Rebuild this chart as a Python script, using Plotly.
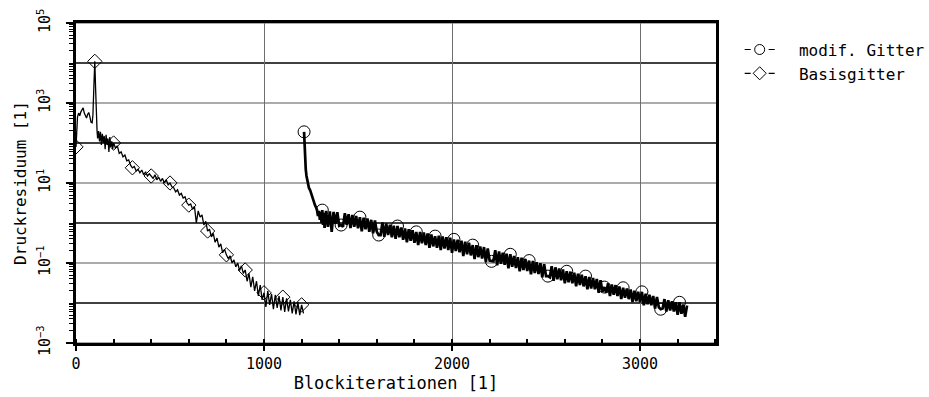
import plotly.graph_objects as go

# ---------------- Basisgitter ----------------
basis_iter = [0, 3, 8, 14, 20, 26, 32, 38, 44, 50, 56, 62, 68, 74, 80, 86, 90, 95,
              100, 104, 108, 112, 115, 120, 125, 130, 135, 140, 145, 150, 155, 160,
              165, 170, 175, 180, 185, 190, 195] + list(range(200, 1220, 10))
basis_res = [
    80, 190, 450, 560, 480, 600, 700, 760, 560, 470, 420, 520, 580, 450, 330, 320, 500, 2500,
    11000, 2500, 450, 200, 130, 200, 110, 190, 90, 170, 100, 150, 70, 160,
    90, 130, 60, 140, 80, 110, 70,
    # 200 - 290
    100, 75, 85, 55, 60, 45, 50, 36, 38, 28,
    # 300 - 390
    24, 26, 20, 22, 18, 21, 16, 19, 15, 17,
    # 400 - 490
    15, 13, 16, 12, 14, 11, 13, 10, 12, 9,
    # 500 - 590
    10, 8, 7.5, 6, 6.8, 5, 5.5, 4.2, 4.5, 3.2,
    # 600 - 690
    2.8, 3.0, 2.2, 2.6, 1.0, 2.0, 1.4, 1.6, 0.9, 1.1,
    # 700 - 790
    0.63, 0.7, 0.45, 0.55, 0.33, 0.42, 0.25, 0.3, 0.18, 0.22,
    # 800 - 890
    0.16, 0.13, 0.15, 0.1, 0.12, 0.08, 0.1, 0.065, 0.085, 0.055,
    # 900 - 990
    0.067, 0.035, 0.055, 0.025, 0.045, 0.02, 0.035, 0.015, 0.028, 0.012,
    # 1000 - 1090
    0.018, 0.008, 0.02, 0.009, 0.017, 0.007, 0.016, 0.0075, 0.015, 0.0065,
    # 1100 - 1190
    0.014, 0.006, 0.013, 0.0062, 0.012, 0.0055, 0.011, 0.0052, 0.0105, 0.005,
    # 1200 - 1210
    0.009, 0.0055,
]
basis_marker_iter = [0, 100, 200, 300, 400, 500, 600, 700, 800, 900, 1000, 1100, 1200]

# ---------------- modifiziertes Gitter ----------------
modif_iter = [1213, 1216, 1218, 1222, 1226, 1229, 1234, 1239, 1245, 1250, 1255, 1261,
              1266, 1271, 1276, 1282, 1287, 1292, 1297, 1302, 1306, 1310, 1314, 1318,
              1322, 1326] + list(range(1330, 3260, 10))
modif_res = [
    190, 60, 38, 22, 15, 12, 9, 7.5, 6.7, 5.5, 4.8, 3.8,
    3.3, 2.8, 2.5, 2.1, 1.5, 2.0, 1.2, 1.9, 1.0, 2.1, 0.9, 1.8,
    0.75, 1.7,
    # 1330 - 1390
    2.0, 0.8, 1.95, 0.6, 1.9, 0.95, 1.85,
    # 1400 - 1490
    0.85, 0.89, 0.8, 1.75, 0.9, 1.65, 0.75, 1.6, 0.8, 1.5,
    # 1500 - 1590
    0.74, 1.4, 0.62, 1.35, 0.7, 1.3, 0.6, 1.2, 0.55, 1.15,
    # 1600 - 1690
    0.6, 0.5, 0.5, 1.03, 0.45, 0.97, 0.5, 0.91, 0.44, 0.86,
    # 1700 - 1790
    0.40, 0.84, 0.44, 0.77, 0.38, 0.73, 0.33, 0.70, 0.36, 0.66,
    # 1800 - 1890
    0.32, 0.6, 0.28, 0.60, 0.31, 0.58, 0.28, 0.55, 0.24, 0.52,
    # 1900 - 1990
    0.26, 0.47, 0.24, 0.48, 0.21, 0.46, 0.23, 0.44, 0.21, 0.43,
    # 2000 - 2090
    0.18, 0.39, 0.20, 0.38, 0.185, 0.36, 0.15, 0.34, 0.165, 0.32,
    # 2100 - 2190
    0.155, 0.28, 0.125, 0.28, 0.14, 0.26, 0.13, 0.25, 0.105, 0.23,
    # 2200 - 2290
    0.115, 0.11, 0.11, 0.21, 0.088, 0.195, 0.096, 0.18, 0.09, 0.17,
    # 2300 - 2390
    0.074, 0.165, 0.08, 0.15, 0.075, 0.14, 0.062, 0.135, 0.067, 0.127,
    # 2400 - 2490
    0.063, 0.115, 0.052, 0.112, 0.056, 0.105, 0.053, 0.099, 0.044, 0.093,
    # 2500 - 2590
    0.047, 0.047, 0.044, 0.083, 0.036, 0.078, 0.039, 0.073, 0.037, 0.069,
    # 2600 - 2690
    0.031, 0.062, 0.033, 0.061, 0.031, 0.057, 0.026, 0.054, 0.028, 0.051,
    # 2700 - 2790
    0.026, 0.047, 0.022, 0.045, 0.023, 0.042, 0.022, 0.040, 0.018, 0.037,
    # 2800 - 2890
    0.019, 0.025, 0.018, 0.031, 0.015, 0.029, 0.016, 0.028, 0.015, 0.026,
    # 2900 - 2990
    0.0125, 0.024, 0.0135, 0.023, 0.0125, 0.0217, 0.0105, 0.0204, 0.011, 0.0192,
    # 3000 - 3090
    0.0105, 0.019, 0.0088, 0.017, 0.0093, 0.016, 0.0088, 0.015, 0.0073, 0.0141,
    # 3100 - 3190
    0.0078, 0.007, 0.0073, 0.0125, 0.0061, 0.0118, 0.0065, 0.0111, 0.0061, 0.0104,
    # 3200 - 3250
    0.0051, 0.0104, 0.0054, 0.0092, 0.0045, 0.0087,
]
modif_marker_iter = [1213, 1310, 1410, 1510, 1610, 1710, 1810, 1910, 2010, 2110, 2210,
                     2310, 2410, 2510, 2610, 2710, 2810, 2910, 3010, 3110, 3210]

assert len(basis_iter) == len(basis_res)
assert len(modif_iter) == len(modif_res)

label_decades = [1e5, 1e3, 1e1, 1e-1, 1e-3]
label_text = ["10<sup>5</sup>", "10<sup>3</sup>", "10<sup>1</sup>",
              "10<sup>\u22121</sup>", "10<sup>\u22123</sup>"]
plain_decades = [1e4, 1e2, 1e0, 1e-2]
x_ticks = [0, 1000, 2000, 3000]

# minor ticks of the log axis: 2..9 in every decade plus the unlabelled decades
minor_y = [m * 10.0 ** e for e in range(-3, 5) for m in range(2, 10)] + plain_decades

MONO = "DejaVu Sans Mono"


def pick(xs, ys, wanted):
    lookup = dict(zip(xs, ys))
    return wanted, [lookup[w] for w in wanted]


fig = go.Figure()

# convergence histories (lines only)
fig.add_trace(go.Scatter(x=basis_iter, y=basis_res, mode="lines",
                         line=dict(color="black", width=1.3), showlegend=False,
                         hoverinfo="skip"))
fig.add_trace(go.Scatter(x=modif_iter, y=modif_res, mode="lines",
                         line=dict(color="black", width=2.7), showlegend=False,
                         hoverinfo="skip"))

# symbols every 100 iterations
bx, by = pick(basis_iter, basis_res, basis_marker_iter)
mx, my = pick(modif_iter, modif_res, modif_marker_iter)
fig.add_trace(go.Scatter(x=bx, y=by, mode="markers", showlegend=False,
                         marker=dict(symbol="diamond-open", size=11, color="black",
                                     line=dict(width=1))))
fig.add_trace(go.Scatter(x=mx, y=my, mode="markers", showlegend=False,
                         marker=dict(symbol="circle-open", size=12, color="black",
                                     line=dict(width=1))))

# legend entries
fig.add_trace(go.Scatter(x=[None], y=[None], mode="lines+markers",
                         name="\u00a0\u00a0modif. Gitter",
                         line=dict(color="black", width=1.2, dash="6px,18px"),
                         marker=dict(symbol="circle-open", size=10, color="black",
                                     line=dict(width=1))))
fig.add_trace(go.Scatter(x=[None], y=[None], mode="lines+markers",
                         name="\u00a0\u00a0Basisgitter",
                         line=dict(color="black", width=1.2, dash="6px,18px"),
                         marker=dict(symbol="diamond-open", size=10, color="black",
                                     line=dict(width=1))))

# grid: grey on the labelled decades, black on the others
for d in label_decades:
    fig.add_shape(type="line", xref="paper", x0=0, x1=1, yref="y", y0=d, y1=d,
                  line=dict(color="#8f8f8f", width=1.3), layer="between")
for d in plain_decades:
    fig.add_shape(type="line", xref="paper", x0=0, x1=1, yref="y", y0=d, y1=d,
                  line=dict(color="black", width=1.4), layer="between")

fig.update_layout(
    width=929, height=397,
    margin=dict(l=76, r=213, t=23, b=54, autoexpand=False),
    paper_bgcolor="white", plot_bgcolor="white",
    font=dict(family=MONO, size=15, color="black"),
    legend=dict(x=1.037, y=0.97, xanchor="left", yanchor="top",
                bgcolor="rgba(0,0,0,0)", font=dict(family=MONO, size=16),
                tracegroupgap=0, itemclick=False),
)

fig.update_xaxes(
    range=[0, 3404], tickvals=x_ticks, ticktext=[str(v) for v in x_ticks],
    ticks="outside", ticklen=5, tickwidth=1.5, tickcolor="black",
    showline=True, linewidth=3, linecolor="black", mirror=True,
    showgrid=True, gridcolor="#6e6e6e", gridwidth=1.2, zeroline=False,
    minor=dict(tick0=0, dtick=200, ticks="inside", ticklen=4, tickwidth=1.5,
               tickcolor="black", showgrid=False),
    tickfont=dict(family=MONO, size=15),
    title=dict(text="Blockiterationen [1]", font=dict(family=MONO, size=17), standoff=6),
)

fig.update_yaxes(
    type="log", range=[-3, 5], tickvals=label_decades, ticktext=label_text,
    tickangle=-90, ticks="outside", ticklen=7, tickwidth=1.5, tickcolor="black",
    showline=True, linewidth=3, linecolor="black", mirror=True,
    showgrid=False, zeroline=False,
    minor=dict(tickvals=minor_y, ticks="outside", ticklen=4, tickwidth=1,
               tickcolor="black", showgrid=False),
    tickfont=dict(family=MONO, size=15), ticklabelstandoff=10,
    title=dict(text="Druckresiduum [1]", font=dict(family=MONO, size=16), standoff=4),
)

fig.write_html("out.html")
